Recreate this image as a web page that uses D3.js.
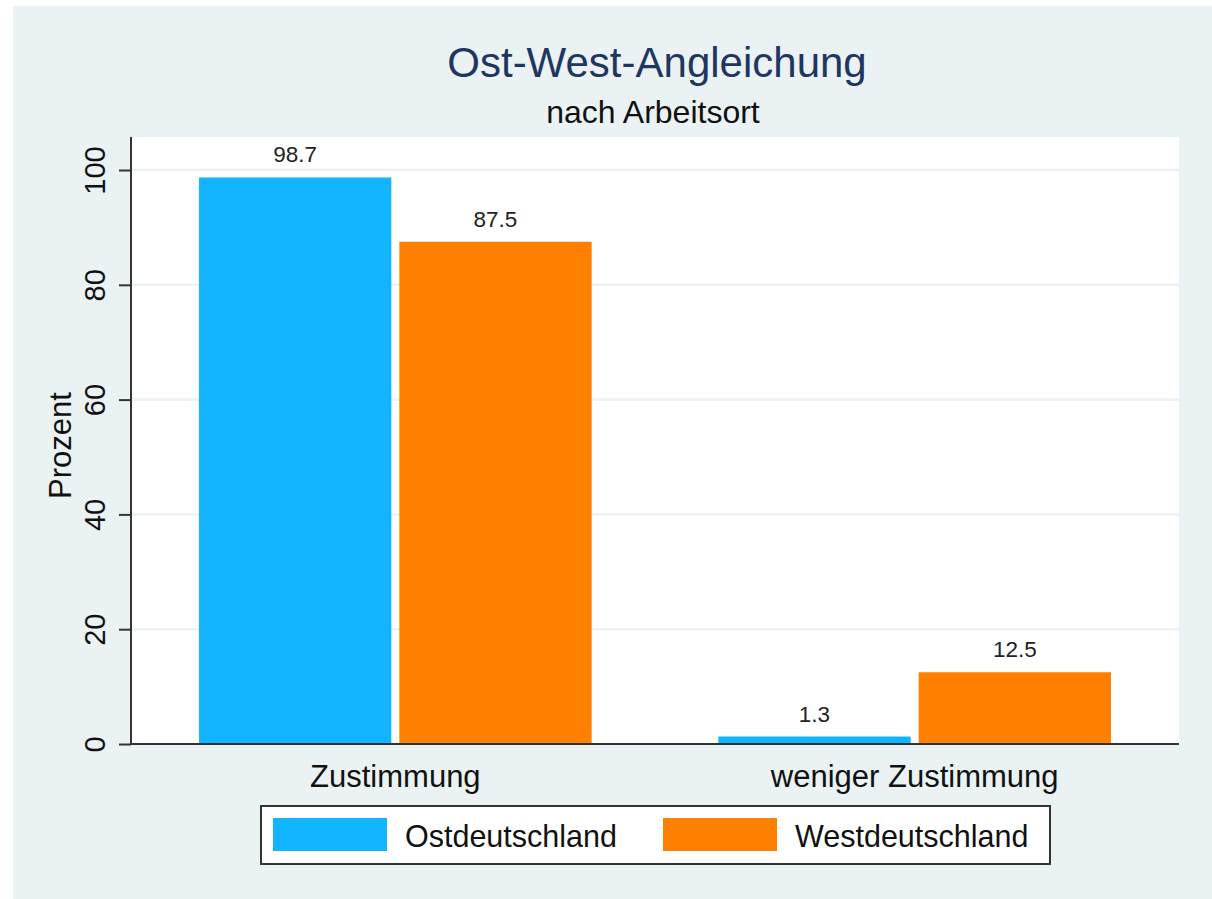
<!DOCTYPE html>
<html>
<head>
<meta charset="utf-8">
<script src="https://cdn.jsdelivr.net/npm/d3@7"></script>
<style>
  body { margin: 0; background: #fff; }
  text { font-family: Arial, "Liberation Sans", sans-serif; }
</style>
</head>
<body>
<svg id="chart" width="1212" height="899"></svg>
<script>
// data
const categories = ["Zustimmung", "weniger Zustimmung"];
const seriesNames = ["Ostdeutschland", "Westdeutschland"];
const ostValues = [98.7, 1.3];
const westValues = [87.5, 12.5];
const yTicks = [0, 20, 40, 60, 80, 100];

const COLORS = ["#13B4FF", "#FF8000"];
const BG = "#EAF2F3";
const MARGIN = { top: 137, right: 33, bottom: 155, left: 131 };
const width = 1212, height = 899;
const boundsWidth = width - MARGIN.left - MARGIN.right;
const boundsHeight = height - MARGIN.top - MARGIN.bottom;

const svg = d3.select("#chart");

// outer background
svg.append("rect").attr("x", 13).attr("y", 6)
  .attr("width", width - 13).attr("height", height - 6).attr("fill", BG);

const g = svg.append("g").attr("transform", `translate(${MARGIN.left},${MARGIN.top})`);

// plot region
g.append("rect").attr("width", boundsWidth).attr("height", boundsHeight).attr("fill", "#fff");

const yScale = d3.scaleLinear().domain([0, 105.75]).range([boundsHeight, 0]);
const xScale = d3.scaleBand().domain(categories).range([0, boundsWidth]).paddingInner(0.244).paddingOuter(0.131);
const xSub = d3.scaleBand().domain(seriesNames).range([0, xScale.bandwidth()]).paddingInner(0.04);

// grid lines
g.selectAll(".grid").data(yTicks.filter((d) => d > 0)).join("line")
  .attr("x1", 0).attr("x2", boundsWidth)
  .attr("y1", (d) => yScale(d)).attr("y2", (d) => yScale(d))
  .attr("stroke", BG).attr("stroke-width", 2.5);

// bars
const rows = categories.map((c, i) => ({ cat: c, values: [ostValues[i], westValues[i]] }));
const groups = g.selectAll(".grp").data(rows).join("g")
  .attr("transform", (d) => `translate(${xScale(d.cat)},0)`);

groups.selectAll("rect").data((d) => d.values.map((v, j) => ({ v, s: seriesNames[j], j })))
  .join("rect")
  .attr("x", (d) => xSub(d.s))
  .attr("width", xSub.bandwidth())
  .attr("y", (d) => yScale(d.v))
  .attr("height", (d) => boundsHeight - yScale(d.v))
  .attr("fill", (d) => COLORS[d.j]);

groups.selectAll(".lbl").data((d) => d.values.map((v, j) => ({ v, s: seriesNames[j] })))
  .join("text")
  .attr("class", "lbl")
  .attr("x", (d) => xSub(d.s) + xSub.bandwidth() / 2)
  .attr("y", (d) => yScale(d.v) - 15)
  .attr("text-anchor", "middle")
  .style("font-size", "22.5px")
  .attr("fill", "#222")
  .text((d) => d.v.toFixed(1));

// y axis
const yAxis = g.append("g").call(d3.axisLeft(yScale).tickValues(yTicks).tickSize(12).tickPadding(0));
yAxis.select(".domain").attr("d", `M0,0V${boundsHeight}`).attr("stroke", "#333").attr("stroke-width", 2);
yAxis.selectAll(".tick line").attr("stroke", "#333").attr("stroke-width", 2);
yAxis.selectAll(".tick text")
  .attr("x", 0).attr("y", 0).attr("dy", 0)
  .attr("transform", "translate(-26,0) rotate(-90)")
  .attr("text-anchor", "middle")
  .style("font-size", "29px")
  .attr("fill", "#111");

// baseline
g.append("line").attr("x1", 0).attr("x2", boundsWidth)
  .attr("y1", boundsHeight).attr("y2", boundsHeight)
  .attr("stroke", "#333").attr("stroke-width", 2);

// y title
svg.append("text")
  .attr("transform", `translate(71,${MARGIN.top + yScale(52)}) rotate(-90)`)
  .attr("text-anchor", "middle")
  .style("font-size", "31px")
  .attr("fill", "#111")
  .text("Prozent");

// category labels
g.selectAll(".cat").data(categories).join("text")
  .attr("x", (d) => xScale(d) + xScale.bandwidth() / 2)
  .attr("y", boundsHeight + 43)
  .attr("text-anchor", "middle")
  .style("font-size", "31px")
  .attr("fill", "#111")
  .text((d) => d);

// titles
svg.append("text").attr("x", 657).attr("y", 77).attr("text-anchor", "middle")
  .style("font-size", "42px").attr("fill", "#1E3660").text("Ost-West-Angleichung");
svg.append("text").attr("x", 653).attr("y", 123).attr("text-anchor", "middle")
  .style("font-size", "32px").attr("fill", "#111").text("nach Arbeitsort");

// legend
const legend = svg.append("g").attr("transform", "translate(261,806)");
legend.append("rect").attr("width", 789).attr("height", 58)
  .attr("fill", "#fff").attr("stroke", "#333").attr("stroke-width", 2);
const legendX = [12, 402];
seriesNames.forEach((s, i) => {
  legend.append("rect").attr("x", legendX[i]).attr("y", 12)
    .attr("width", 114).attr("height", 33).attr("fill", COLORS[i]);
  legend.append("text").attr("x", legendX[i] + 132).attr("y", 41)
    .style("font-size", "30.5px").attr("fill", "#111").text(s);
});
</script>
</body>
</html>
